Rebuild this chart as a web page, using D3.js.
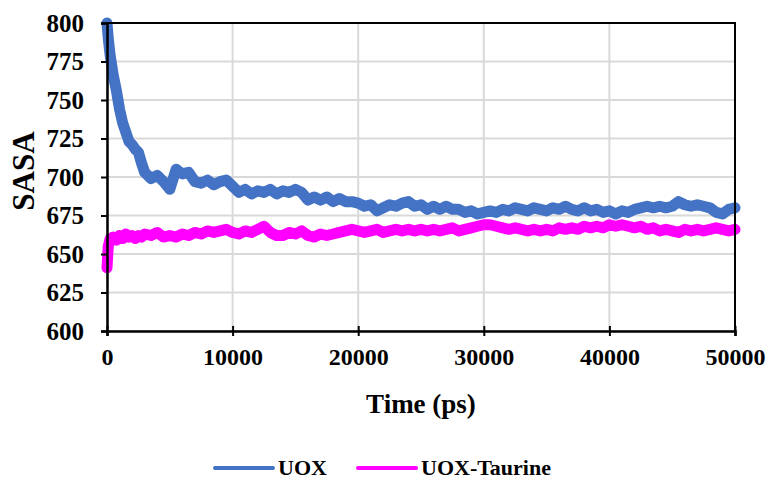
<!DOCTYPE html>
<html>
<head>
	<meta charset="utf-8">
	<script src="https://cdnjs.cloudflare.com/ajax/libs/d3/7.8.5/d3.min.js"></script>
	<style>
		body {
			margin: 0;
			background: #fff;
		}
		svg text {
			font-family: "Liberation Serif", "Times New Roman", serif;
			font-weight: bold;
			fill: #000;
		}
	</style>
</head>
<body>
	<svg width="771" height="485" id="chart"></svg>

	<script>
	//time points (ps)
	var timePs = [0, 100, 250, 500, 750, 1000, 1250, 1500, 1750, 2000, 2250, 2500, 2750, 3000,
		3500, 4000, 4500, 5000, 5500, 6000, 6500, 7000, 7500, 8000, 8500, 9000, 9500, 10000,
		10500, 11000, 11500, 12000, 12500, 13000, 13500, 14000, 14500, 15000, 15500, 16000,
		16500, 17000, 17500, 18000, 18500, 19000, 19500, 20000, 20500, 21000, 21500, 22000,
		22500, 23000, 23500, 24000, 24500, 25000, 25500, 26000, 26500, 27000, 27500, 28000,
		28500, 29000, 29500, 30000, 30500, 31000, 31500, 32000, 32500, 33000, 33500, 34000,
		34500, 35000, 35500, 36000, 36500, 37000, 37500, 38000, 38500, 39000, 39500, 40000,
		40500, 41000, 41500, 42000, 42500, 43000, 43500, 44000, 44500, 45000, 45500, 46000,
		46500, 47000, 47500, 48000, 48500, 49000, 49500, 50000];

	//SASA values
	var uox = [800, 790, 779, 766, 756, 744, 735, 729, 723, 721, 718, 716, 709, 703,
		699, 701, 697, 692, 705, 702, 703, 697, 696, 698, 695, 697, 698, 694,
		690, 692, 689, 691, 690, 692, 689, 691, 690, 692, 690, 685,
		687, 685, 687, 684, 686, 684, 684, 683, 681, 682, 678, 680,
		682, 681, 683, 684, 681, 682, 679, 681, 679, 681, 679, 679,
		677, 678, 676, 677, 678, 677, 679, 678, 680, 679, 678, 680,
		679, 678, 680, 679, 681, 679, 678, 680, 678, 679, 677, 678,
		676, 678, 677, 679, 680, 681, 680, 681, 680, 681, 684, 682,
		681, 682, 681, 680, 677, 676, 679, 680];

	var uoxTaurine = [641, 655, 660, 661, 659, 662, 660, 663, 661, 662, 660, 662, 661, 663,
		662, 664, 661, 662, 661, 663, 662, 664, 663, 665, 664, 665, 666, 664,
		663, 665, 664, 666, 668, 664, 662, 662, 664, 663, 665, 662,
		661, 663, 662, 663, 664, 665, 666, 665, 664, 665, 666, 664,
		665, 666, 665, 666, 665, 666, 665, 666, 665, 666, 667, 665,
		666, 667, 668, 669, 669, 668, 667, 666, 667, 666, 665, 666,
		665, 666, 665, 667, 666, 667, 666, 668, 667, 668, 667, 669,
		668, 669, 668, 667, 668, 666, 667, 665, 666, 665, 664, 666,
		665, 666, 665, 666, 667, 666, 665, 666];

	var xTicks = [0, 10000, 20000, 30000, 40000, 50000];
	var yTicks = [600, 625, 650, 675, 700, 725, 750, 775, 800];

	var seriesNames = ["UOX", "UOX-Taurine"];
	var seriesColors = ["#4472c4", "#ff00ff"];

	var serif = '"Liberation Serif", "Times New Roman", serif';

	//define chart margins
	var svg = d3.select("svg"),
		margin = {top: 23, right: 36, bottom: 154, left: 107},
		width = svg.attr("width") - margin.left - margin.right,
		height = svg.attr("height") - margin.top - margin.bottom;

	var g = svg.append("g").attr("transform", "translate(" + margin.left + "," + margin.top + ")");

	//define scales
	var x = d3.scaleLinear().domain([0, 50000]).range([0, width]),
		y = d3.scaleLinear().domain([600, 800]).range([height, 0]);

	//gridlines
	g.append("g")
		.selectAll("line")
		.data(yTicks)
		.enter().append("line")
		.attr("x1", 0).attr("x2", width)
		.attr("y1", function(d) { return y(d); })
		.attr("y2", function(d) { return y(d); })
		.attr("stroke", "#d9d9d9")
		.attr("stroke-width", 2);

	g.append("g")
		.selectAll("line")
		.data(xTicks)
		.enter().append("line")
		.attr("y1", 0).attr("y2", height)
		.attr("x1", function(d) { return x(d); })
		.attr("x2", function(d) { return x(d); })
		.attr("stroke", "#d9d9d9")
		.attr("stroke-width", 2);

	//series lines
	var series = [uox, uoxTaurine];
	var line = d3.line()
		.x(function(d) { return x(d[0]); })
		.y(function(d) { return y(d[1]); });

	series.forEach(function(vals, i) {
		var pts = timePs.map(function(t, j) { return [t, vals[j]]; });
		g.append("path")
			.datum(pts)
			.attr("fill", "none")
			.attr("stroke", seriesColors[i])
			.attr("stroke-width", 11)
			.attr("stroke-linejoin", "round")
			.attr("stroke-linecap", "round")
			.attr("d", line);
	});

	//plot border (top and right)
	g.append("path")
		.attr("d", "M0,0H" + width + "V" + height)
		.attr("fill", "none")
		.attr("stroke", "#000")
		.attr("stroke-width", 2);

	//x axis
	var xAxis = g.append("g")
		.attr("transform", "translate(0," + height + ")")
		.call(d3.axisBottom(x).tickValues(xTicks).tickFormat(d3.format("d")).tickSize(5).tickPadding(12));
	xAxis.select(".domain").attr("stroke", "#000").attr("stroke-width", 2.5);
	xAxis.selectAll(".tick line").attr("stroke", "#000").attr("stroke-width", 2).attr("y1", -5);
	xAxis.selectAll(".tick text")
		.style("font-family", serif)
		.style("font-weight", "bold")
		.style("font-size", "24px");

	//y axis
	var yAxis = g.append("g")
		.call(d3.axisLeft(y).tickValues(yTicks).tickSize(6).tickPadding(17));
	yAxis.select(".domain").attr("stroke", "#000").attr("stroke-width", 2.5);
	yAxis.selectAll(".tick line").attr("stroke", "#000").attr("stroke-width", 2);
	yAxis.selectAll(".tick text")
		.style("font-family", serif)
		.style("font-weight", "bold")
		.style("font-size", "25px");

	//axis titles
	svg.append("text")
		.attr("x", margin.left + width / 2)
		.attr("y", 413)
		.attr("text-anchor", "middle")
		.style("font-size", "27px")
		.text("Time (ps)");

	svg.append("text")
		.attr("transform", "translate(34," + (margin.top + height / 2 - 6) + ") rotate(-90)")
		.attr("text-anchor", "middle")
		.style("font-size", "31px")
		.text("SASA");

	//legend
	var legend = svg.append("g").attr("transform", "translate(215,468)");
	var legendX = [0, 143];
	seriesNames.forEach(function(name, i) {
		var item = legend.append("g").attr("transform", "translate(" + legendX[i] + ",0)");
		item.append("line")
			.attr("x1", 0).attr("x2", 58)
			.attr("y1", 0).attr("y2", 0)
			.attr("stroke", seriesColors[i])
			.attr("stroke-width", 4)
			.attr("stroke-linecap", "round");
		item.append("text")
			.attr("x", 63)
			.attr("y", 7)
			.style("font-size", "22px")
			.text(name);
	});
	</script>
</body>
</html>
